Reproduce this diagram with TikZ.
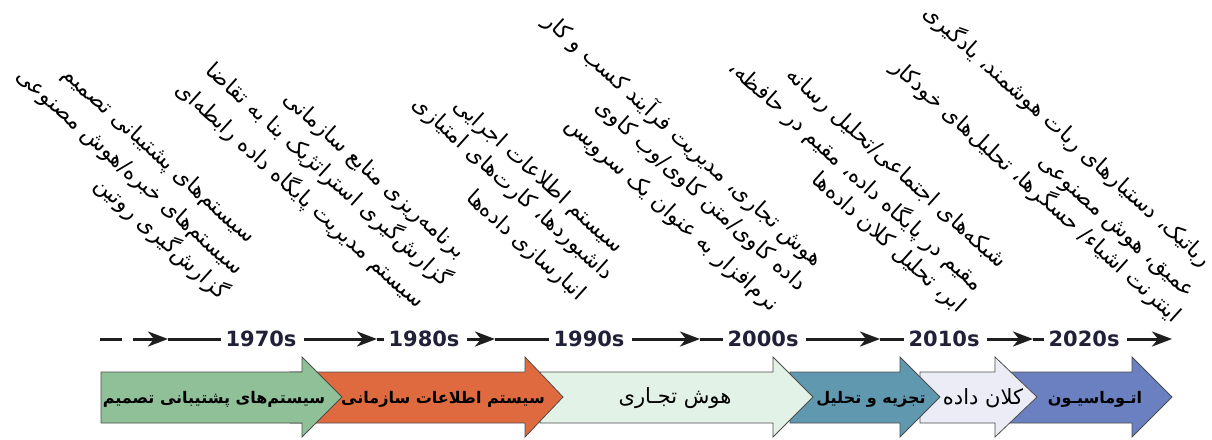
\documentclass[tikz,border=0pt]{standalone}
\usepackage{fontspec}
\usetikzlibrary{arrows.meta}
\TeXXeTstate=1
\newfontfamily\fa[Script=Arabic]{DejaVu Sans}
\newfontfamily\yearfont{DejaVu Sans}

\definecolor{dssgreen}{HTML}{8FC098}
\definecolor{eisorange}{HTML}{E06A40}
\definecolor{bipale}{HTML}{E3F2E6}
\definecolor{anateal}{HTML}{6098B0}
\definecolor{bdlav}{HTML}{ECECF6}
\definecolor{autoblue}{HTML}{6A80C0}
\definecolor{yearcol}{HTML}{202038}
\definecolor{tlcol}{HTML}{1E1E1E}

\tikzset{
  evo/.style={draw=black!70, line width=0.8pt, line join=miter},
  tl/.style={line width=3pt, draw=tlcol},
  tltip/.style={-{Stealth[length=20pt,width=15pt,inset=6pt]}},
  yr/.style={font=\yearfont\bfseries\fontsize{21}{21}\selectfont, text=yearcol, inner sep=0pt},
  trend/.style={font=\fa\fontsize{22}{24}\selectfont, rotate=-42, anchor=east, inner sep=0pt},
  bandlbl/.style={font=\fa\bfseries\fontsize{16}{20}\selectfont, inner sep=0pt},
  bandlblr/.style={font=\fa\fontsize{21}{24}\selectfont, inner sep=0pt},
}

% era arrow: left end, head base, tip, fill colour
\newcommand\evoarrow[4]{%
  \filldraw[evo, fill=#4] (#1,372) -- (#2,372) -- (#2,357) -- (#3,397)
    -- (#2,437) -- (#2,423) -- (#1,423) -- cycle;}

\begin{document}
\begin{tikzpicture}[x=1pt, y=-1pt]
\useasboundingbox (0,0) rectangle (1212,439);

% ---------- era arrows (later ones first, so each overlaps the next) ----------
\evoarrow{1010}{1132}{1172}{autoblue}
\evoarrow{920}{995}{1037}{bdlav}
\evoarrow{790}{900}{940}{anateal}
\evoarrow{540}{773}{813}{bipale}
\evoarrow{290}{525}{563}{eisorange}
\evoarrow{101}{302}{342}{dssgreen}

\node[bandlbl]  (b1) at (214,399) {\fa\bfseries\beginR سیستم‌های پشتیبانی تصمیم\endR};
\node[bandlbl]  (b2) at (443,399) {\fa\bfseries\beginR سیستم اطلاعات سازمانی\endR};
\node[bandlblr] (b3) at (675,398) {\beginR هوش تجـاری\endR};
\node[bandlbl]  (b4) at (871,399) {\fa\bfseries\beginR تجزیه و تحلیل\endR};
\node[bandlblr] (b5) at (983,398) {\beginR کلان داده\endR};
\node[bandlbl]  (b6) at (1095,399) {\fa\bfseries\beginR اتـوماسیـون\endR};

% ---------- timeline ----------
\coordinate (d0) at (100,339);  \coordinate (d1) at (122,339);
\draw[tl] (d0) -- (d1);

\node[yr] (y70) at (261,339) {1970s};
\node[yr] (y80) at (424,339) {1980s};
\node[yr] (y90) at (589,339) {1990s};
\node[yr] (y00) at (763,339) {2000s};
\node[yr] (y10) at (944,339) {2010s};
\node[yr] (y20) at (1084,339) {2020s};

\coordinate (s1a) at (133,339); \coordinate (s1m) at (168,339);
\coordinate (s2m) at (377,339);
\coordinate (s3m) at (495,339);
\coordinate (s4m) at (700,339);
\coordinate (s5m) at (880,339);
\coordinate (s6m) at (1033,339);
\coordinate (s7m) at (1172,339);

\draw[tl, tltip] (s1a) -- (s1m);
\draw[tl] (s1m) -- ([xshift=-4pt]y70.west);
\draw[tl, tltip] ([xshift=7pt]y70.east) -- (s2m);
\draw[tl] (s2m) -- ([xshift=-4pt]y80.west);
\draw[tl, tltip] ([xshift=7pt]y80.east) -- (s3m);
\draw[tl] (s3m) -- ([xshift=-4pt]y90.west);
\draw[tl, tltip] ([xshift=7pt]y90.east) -- (s4m);
\draw[tl] (s4m) -- ([xshift=-4pt]y00.west);
\draw[tl, tltip] ([xshift=7pt]y00.east) -- (s5m);
\draw[tl] (s5m) -- ([xshift=-4pt]y10.west);
\draw[tl, tltip] ([xshift=7pt]y10.east) -- (s6m);
\draw[tl] (s6m) -- ([xshift=-4pt]y20.west);
\draw[tl, tltip] ([xshift=7pt]y20.east) -- (s7m);

% ---------- slanted trend lists ----------
% 1970s
\node[trend] (t70a) at (252,240) {\beginR سیستم‌های پشتیبانی تصمیم\endR};
\node[trend] (t70b) at (240,272) {\beginR سیستم‌های خبره/هوش مصنوعی\endR};
\node[trend] (t70c) at (225,295) {\beginR گزارش‌گیری روتین\endR};
% 1980s
\node[trend] (t80a) at (462,255) {\beginR برنامه‌ریزی منابع سازمانی\endR};
\node[trend] (t80b) at (448,282) {\beginR گزارش‌گیری استراتژیک بنا به تقاضا\endR};
\node[trend] (t80c) at (422,304) {\beginR سیستم مدیریت پایگاه داده رابطه‌ای\endR};
% 1990s
\node[trend] (t90a) at (620,250) {\beginR سیستم اطلاعات اجرایی\endR};
\node[trend] (t90b) at (610,277) {\beginR داشبوردها، کارت‌های امتیازی\endR};
\node[trend] (t90c) at (582,297) {\beginR انبارسازی داده‌ها\endR};
% 2000s
\node[trend] (t00a) at (820,262) {\beginR هوش تجاری، مدیریت فرآیند کسب و کار\endR};
\node[trend] (t00b) at (803,288) {\beginR داده کاوی/متن کاوی/وب کاوی\endR};
\node[trend] (t00c) at (775,308) {\beginR نرم‌افزار به عنوان یک سرویس\endR};
% 2010s
\node[trend] (t10a) at (1003,265) {\beginR شبکه‌های اجتماعی/تحلیل رسانه\endR};
\node[trend] (t10b) at (980,287) {\beginR مقیم در پایگاه داده، مقیم در حافظه،\endR};
\node[trend] (t10c) at (962,310) {\beginR ابر، تحلیل کلان داده‌ها\endR};
% 2020s
\node[trend] (t20a) at (1208,262) {\beginR رباتیک، دستیارهای ربات هوشمند، یادگیری\endR};
\node[trend] (t20b) at (1190,296) {\beginR عمیق، هوش مصنوعی\endR};
\node[trend] (t20c) at (1178,318) {\beginR اینترنت اشیاء/ حسگرها، تحلیل‌های خودکار\endR};
\end{tikzpicture}
\end{document}
